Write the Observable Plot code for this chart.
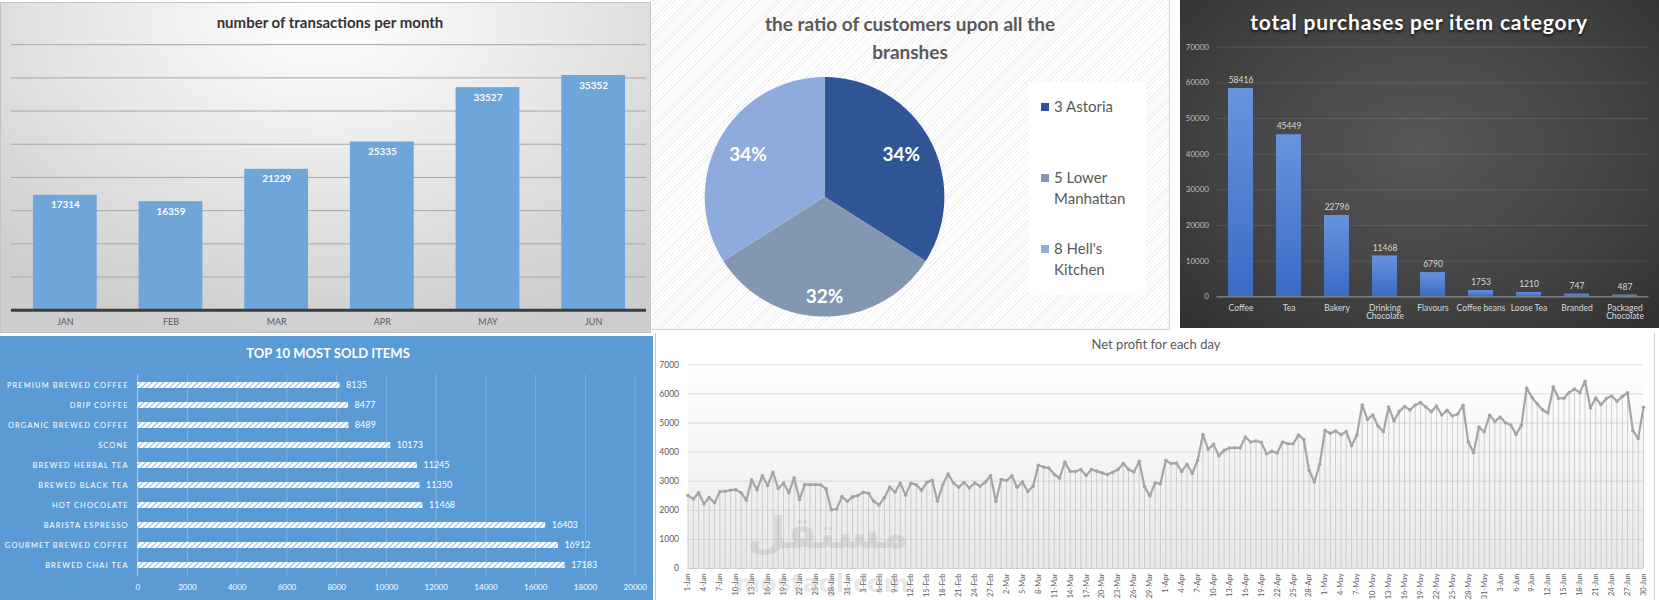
<!DOCTYPE html>
<html>
<head>
<meta charset="utf-8">
<script src="https://cdn.jsdelivr.net/npm/d3@7"></script>
<script src="https://cdn.jsdelivr.net/npm/@observablehq/plot@0.6"></script>
<style>
  body { margin: 0; background: #fff; }
  #dash { position: relative; width: 1659px; height: 600px; overflow: hidden; background: #fff; font-family: Lato, "Open Sans", sans-serif; }
  .panel { position: absolute; overflow: hidden; box-sizing: border-box; }
  .panel svg { position: absolute; left: 0; top: 0; }
  .title { position: absolute; transform: translate(-50%, -50%); white-space: nowrap; line-height: 1; }
  #p1 { left: 0; top: 2px; width: 651px; height: 331px; border: 1px solid #c3c3c3;
        background: radial-gradient(ellipse 75% 100% at 50% 4%, #ffffff 0%, #ededed 38%, #cdcdcd 100%); }
  #p2 { left: 652px; top: 0; width: 518px; height: 330px; border-right: 1px solid #d4d4d4; border-bottom: 1px solid #d4d4d4;
        background: repeating-linear-gradient(-45deg, #ffffff 0px, #ffffff 2px, #efefef 2px, #efefef 3px); }
  #p3 { left: 1180px; top: 0; width: 479px; height: 328px;
        background: radial-gradient(ellipse 80% 85% at 50% 45%, #575757 0%, #424242 55%, #2b2b2b 100%); }
  #p4 { left: 0; top: 336px; width: 653px; height: 264px; background: #5b9bd5; }
  #p5 { left: 655px; top: 333px; width: 1000px; height: 267px; background: #fff;
        border-left: 1px solid #9fd6ee; border-right: 1px solid #d0d0d0; }
  #legend { position: absolute; left: 377px; top: 82px; width: 117px; height: 213px; background: #fff; color: #595959; font-size: 15px; }
  #legend .item { position: absolute; left: 25px; line-height: 21px; }
  #legend .sw { position: absolute; left: -13px; top: 7px; width: 8px; height: 8px; }
  #p4 [aria-label="y-axis tick label"] text { letter-spacing: 1.1px; }
  .mark { position: absolute; transform: translate(-50%, -50%); white-space: nowrap; color: rgba(150,150,150,0.22); font-weight: bold; pointer-events: none; line-height: 1; }
</style>
</head>
<body>
<svg width="0" height="0" style="position:absolute">
  <defs>
    <pattern id="hatch" width="4" height="4" patternUnits="userSpaceOnUse" patternTransform="rotate(45)">
      <rect width="4" height="4" fill="#ffffff"></rect>
      <line x1="0" y1="0" x2="0" y2="4" stroke="#5b9bd5" stroke-width="1.4"></line>
    </pattern>
    <linearGradient id="catBar" x1="0" y1="0" x2="0" y2="1">
      <stop offset="0" stop-color="#6893dd"></stop>
      <stop offset="1" stop-color="#3a6bc5"></stop>
    </linearGradient>
    <linearGradient id="plotShade" x1="0" y1="0" x2="0" y2="1">
      <stop offset="0" stop-color="#ffffff"></stop>
      <stop offset="1" stop-color="#e8e8e8"></stop>
    </linearGradient>
  </defs>
</svg>

<div id="dash">
  <div class="panel" id="p1">
    <div class="title" style="left:329px;top:19px;font-size:15px;font-weight:bold;color:#333;">number of transactions per month</div>
  </div>
  <div class="panel" id="p2">
    <div class="title" style="left:258px;top:23px;font-size:19px;font-weight:bold;color:#595959;">the ratio of customers upon all the</div>
    <div class="title" style="left:258px;top:51px;font-size:19px;font-weight:bold;color:#595959;">branshes</div>
    <div id="legend"></div>
  </div>
  <div class="panel" id="p3">
    <div class="title" style="left:239px;top:21px;font-size:21px;font-weight:bold;color:#fff;letter-spacing:0.8px;text-shadow:0 2px 3px rgba(0,0,0,0.7);">total purchases per item category</div>
  </div>
  <div class="panel" id="p4">
    <div class="title" style="left:328px;top:17px;font-size:13px;font-weight:bold;color:#fff;">TOP 10 MOST SOLD ITEMS</div>
  </div>
  <div class="panel" id="p5">
    <div class="title" style="left:500px;top:11px;font-size:13px;color:#595959;">Net profit for each day</div>
  </div>
  <div class="mark" style="left:828px;top:533px;font-size:44px;font-family:'DejaVu Sans';">مستقل</div>
  <div class="mark" style="left:822px;top:584px;font-size:24px;font-family:'DejaVu Sans';">mostaql.com</div>
</div>

<script>
// ---- data ----
const months = ["JAN", "FEB", "MAR", "APR", "MAY", "JUN"];
const monthlyTransactions = [17314, 16359, 21229, 25335, 33527, 35352];

const branches = ["3 Astoria", "5 Lower Manhattan", "8 Hell's Kitchen"];
const branchSharePct = [34, 32, 34];
const branchColors = ["#2f5597", "#8497b0", "#8faadc"];

const categories = ["Coffee", "Tea", "Bakery", "Drinking Chocolate", "Flavours", "Coffee beans", "Loose Tea", "Branded", "Packaged Chocolate"];
const categoryPurchases = [58416, 45449, 22796, 11468, 6790, 1753, 1210, 747, 487];

const topItems = ["PREMIUM BREWED COFFEE", "DRIP COFFEE", "ORGANIC BREWED COFFEE", "SCONE", "BREWED HERBAL TEA",
  "BREWED BLACK TEA", "HOT CHOCOLATE", "BARISTA ESPRESSO", "GOURMET BREWED COFFEE", "BREWED CHAI TEA"];
const topItemQty = [8135, 8477, 8489, 10173, 11245, 11350, 11468, 16403, 16912, 17183];

// daily net profit, 1 Jan – 30 Jun 2023
const profitJan = [2506, 2390, 2600, 2220, 2440, 2260, 2640, 2655, 2690, 2710, 2600, 2345, 3045, 2710, 3185, 2850,
  3310, 2750, 2940, 2600, 3115, 2370, 2885, 2885, 2885, 2875, 2735, 2020, 2045, 2470, 2310];
const profitFeb = [2460, 2505, 2620, 2585, 2310, 2185, 2435, 2795, 2630, 2940, 2520, 2930, 2875, 2690, 2960, 3035,
  2310, 2885, 3250, 2940, 2795, 2955, 2770, 2940, 2830, 2965, 3195, 2310];
const profitMar = [3060, 3025, 3185, 2795, 2975, 2645, 2830, 3550, 3485, 3450, 3230, 3105, 3655, 3335, 3335, 3400,
  3195, 3400, 3345, 3285, 3230, 3310, 3400, 3610, 3400, 3320, 3680, 2805, 2495, 2940, 2910];
const profitApr = [3710, 3610, 3620, 3335, 3585, 3265, 3710, 4600, 4090, 4265, 3875, 4060, 4140, 4150, 4140, 4520,
  4345, 4380, 4335, 3945, 4025, 3975, 4345, 4285, 4285, 4585, 4435, 3370, 2975, 3575];
const profitMay = [4745, 4645, 4725, 4600, 4710, 4220, 4575, 5620, 5125, 5275, 4895, 4700, 5550, 5070, 5400, 5565,
  5450, 5620, 5700, 5550, 5390, 5585, 5275, 5435, 5240, 5310, 5610, 4345, 3975, 4860, 4700];
const profitJun = [5265, 5055, 5205, 5010, 4930, 4610, 4920, 6205, 5875, 5655, 5450, 5345, 6240, 5850, 5850, 6045,
  6170, 6045, 6435, 5515, 5860, 5630, 5840, 5930, 5745, 5910, 6035, 4735, 4470, 5540];

const transparent = {background: "transparent", overflow: "visible"};

// ---- number of transactions per month ----
const monthRows = months.map((m, i) => ({month: m, n: monthlyTransactions[i]}));
document.getElementById("p1").append(Plot.plot({
  width: 651, height: 331,
  marginLeft: 10, marginRight: 4, marginTop: 41.3, marginBottom: 23.3,
  style: {...transparent, fontFamily: "Lato, sans-serif", color: "#595959"},
  x: {domain: months, paddingInner: 0.4, paddingOuter: 0.2, label: null},
  y: {domain: [0, 40000], axis: null},
  marks: [
    Plot.ruleY(d3.range(5000, 40001, 5000), {stroke: "#a8a8a8", strokeWidth: 1}),
    Plot.barY(monthRows, {x: "month", y: "n", fill: "#6ea6da"}),
    Plot.ruleY([0], {stroke: "#3d3d3d", strokeWidth: 3}),
    Plot.text(monthRows, {x: "month", y: "n", text: d => String(d.n), dy: 10, fill: "#fff", fontWeight: "bold", fontSize: 10}),
    Plot.axisX({tickSize: 0, tickPadding: 8, fontSize: 9})
  ]
}));

// ---- ratio of customers per branch (pie) ----
const branchRows = branches.map((b, i) => ({branch: b, share: branchSharePct[i]}));
const arcs = d3.pie().sort(null).value(d => d.share)(branchRows);
const slicePoints = arcs.flatMap(a => {
  const pts = [{branch: a.data.branch, x: 0, y: 0}];
  const n = Math.ceil((a.endAngle - a.startAngle) / 0.01);
  for (let k = 0; k <= n; k++) {
    const t = a.startAngle + (a.endAngle - a.startAngle) * k / n;
    pts.push({branch: a.data.branch, x: Math.sin(t), y: Math.cos(t)});
  }
  return pts;
});
const labelRadius = a => (a.index === 1 ? 0.84 : 0.73);
const mid = a => (a.startAngle + a.endAngle) / 2;
document.getElementById("p2").append(Plot.plot({
  width: 518, height: 330,
  marginLeft: 52.4, marginRight: 225.6, marginTop: 76.7, marginBottom: 13.3,
  style: {...transparent, fontFamily: "Lato, sans-serif"},
  x: {domain: [-1, 1], axis: null},
  y: {domain: [-1, 1], axis: null},
  color: {domain: branches, range: branchColors},
  marks: [
    Plot.line(slicePoints, {x: "x", y: "y", z: "branch", fill: "branch", stroke: null, curve: "linear-closed"}),
    Plot.text(arcs, {
      x: a => labelRadius(a) * Math.sin(mid(a)),
      y: a => labelRadius(a) * Math.cos(mid(a)),
      text: a => a.data.share + "%",
      fill: "#fff", fontWeight: "bold", fontSize: 19
    })
  ]
}));
const legend = document.getElementById("legend");
const legendLines = [["3 Astoria"], ["5 Lower", "Manhattan"], ["8 Hell's", "Kitchen"]];
const legendTops = [14, 85, 156];
legendLines.forEach((lines, i) => {
  const item = document.createElement("div");
  item.className = "item";
  item.style.top = legendTops[i] + "px";
  item.innerHTML = lines.join("<br>");
  const sw = document.createElement("span");
  sw.className = "sw";
  sw.style.background = branchColors[i];
  item.append(sw);
  legend.append(item);
});

// ---- total purchases per item category ----
const catRows = categories.map((c, i) => ({category: c, n: categoryPurchases[i]}));
document.getElementById("p3").append(Plot.plot({
  width: 479, height: 328,
  marginLeft: 36.5, marginRight: 10.5, marginTop: 46.7, marginBottom: 31.7,
  style: {...transparent, fontFamily: "Lato, sans-serif", color: "#c8c8c8"},
  x: {domain: categories, paddingInner: 0.48, paddingOuter: 0.24, label: null},
  y: {domain: [0, 70000], label: null},
  marks: [
    Plot.ruleY(d3.range(10000, 70001, 10000), {stroke: "#ffffff", strokeOpacity: 0.1}),
    Plot.barY(catRows, {x: "category", y: "n", fill: "url(#catBar)"}),
    Plot.ruleY([0], {stroke: "#8c8c8c", strokeWidth: 1.2}),
    Plot.text(catRows, {x: "category", y: "n", text: d => String(d.n), dy: -8, fill: "#d9d9d9", fontSize: 8.5}),
    Plot.axisY({ticks: d3.range(0, 70001, 10000), tickFormat: d => String(d), tickSize: 0, tickPadding: 8, fontSize: 8, fill: "#bfbfbf"}),
    Plot.axisX({tickSize: 0, tickPadding: 8, fontSize: 8.5, fill: "#d9d9d9",
      tickFormat: d => d.replace(" Chocolate", "\nChocolate")})
  ]
}));

// ---- top 10 most sold items ----
const itemRows = topItems.map((t, i) => ({item: t, n: topItemQty[i]}));
document.getElementById("p4").append(Plot.plot({
  width: 653, height: 264,
  marginLeft: 137.2, marginRight: 18.3, marginTop: 38.3, marginBottom: 24.6,
  style: {...transparent, fontFamily: "Lato, sans-serif", color: "#ffffff"},
  x: {domain: [0, 20000], label: null},
  y: {domain: topItems, padding: 0, label: null},
  marks: [
    Plot.ruleX(d3.range(2000, 20001, 2000), {stroke: "#ffffff", strokeOpacity: 0.22}),
    Plot.ruleX([0], {stroke: "#ffffff", strokeOpacity: 0.5}),
    Plot.barX(itemRows, {y: "item", x: "n", fill: "url(#hatch)", insetTop: 7, insetBottom: 7}),
    Plot.text(itemRows, {y: "item", x: "n", text: d => String(d.n), dx: 6, textAnchor: "start", fill: "#fff", fontSize: 9}),
    Plot.axisX({ticks: d3.range(0, 20001, 2000), tickFormat: d => String(d), tickSize: 0, tickPadding: 8, fontSize: 8}),
    Plot.axisY({tickSize: 0, tickPadding: 9, fontSize: 7.5})
  ]
}));

// ---- net profit for each day ----
const dailyProfit = [...profitJan, ...profitFeb, ...profitMar, ...profitApr, ...profitMay, ...profitJun];
const dayRows = dailyProfit.map((v, i) => ({date: new Date(Date.UTC(2023, 0, 1 + i)), profit: v}));
const dayTicks = dayRows.filter((d, i) => i % 3 === 0).map(d => d.date);
document.getElementById("p5").append(Plot.plot({
  width: 998, height: 267,
  marginLeft: 31.5, marginRight: 11, marginTop: 31.3, marginBottom: 32,
  style: {...transparent, fontFamily: "Lato, sans-serif", color: "#595959"},
  x: {type: "utc", domain: [dayRows[0].date, dayRows[dayRows.length - 1].date], label: null},
  y: {domain: [0, 7000], label: null},
  marks: [
    Plot.frame({fill: "url(#plotShade)", stroke: null}),
    Plot.ruleY(d3.range(1000, 7001, 1000), {stroke: "#d9d9d9"}),
    Plot.ruleX(dayRows, {x: "date", y1: 0, y2: "profit", stroke: "#c4c4c4", strokeWidth: 0.8}),
    Plot.ruleY([0], {stroke: "#d0d0d0"}),
    Plot.line(dayRows, {x: "date", y: "profit", stroke: "#a5a5a5", strokeWidth: 2.2}),
    Plot.dot(dayRows, {x: "date", y: "profit", r: 1.8, fill: "#a5a5a5", stroke: null}),
    Plot.axisY({ticks: d3.range(0, 7001, 1000), tickFormat: d => String(d), tickSize: 0, tickPadding: 9, fontSize: 8.5}),
    Plot.axisX({ticks: dayTicks, tickFormat: d3.utcFormat("%-d-%b"), tickRotate: -90, tickSize: 0, tickPadding: 5, fontSize: 7.5})
  ]
}));
</script>
</body>
</html>
